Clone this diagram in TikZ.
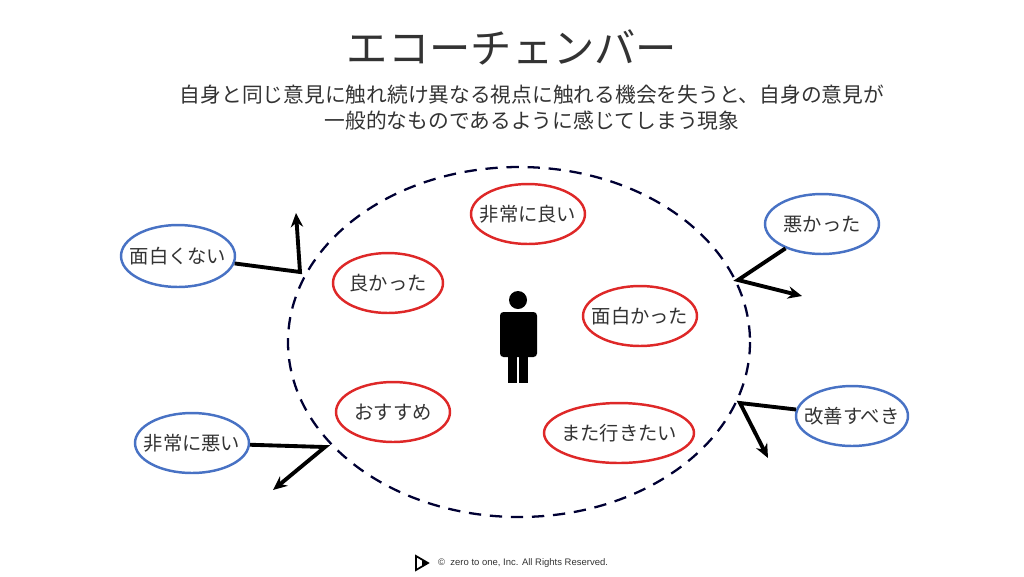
\documentclass[tikz,border=0pt]{standalone}
\usepackage{fontspec}
\setmainfont{Noto Sans CJK JP}
\newfontfamily\foot{Liberation Sans}
\usetikzlibrary{positioning, arrows.meta, shapes.geometric}
\definecolor{goodred}{RGB}{222,40,40}
\definecolor{badblue}{RGB}{72,114,196}

\begin{document}
\begin{tikzpicture}[
  x=0.02cm, y=-0.02cm,
  every node/.style={font=\fontsize{11}{13}\selectfont, text=black!80},
  good/.style={ellipse, draw=goodred, line width=1.4pt, inner sep=0pt, minimum height=1.2cm},
  bad/.style={ellipse, draw=badblue, line width=1.4pt, inner sep=0pt, minimum height=1.2cm},
  bounce/.style={line width=2.2pt, -{Stealth[length=8pt, width=7pt]}}
]
\useasboundingbox (0,0) rectangle (1024,576);

% Title
\node[font=\fontsize{23.5}{28}\selectfont] (title) at (512,47) {エコーチェンバー};
\node[align=center, font=\fontsize{11.8}{14.8}\selectfont] (sub) at (532,108)
  {自身と同じ意見に触れ続け異なる視点に触れる機会を失うと、自身の意見が\\一般的なものであるように感じてしまう現象};

% Chamber
\draw[line width=1.3pt, draw=black!80!blue, dash pattern=on 7pt off 5pt]
  (519,342) ellipse [x radius=231, y radius=175];

% Person
\fill (518,300) circle (9);
\fill[rounded corners=2pt] (500,312) rectangle (537,357);
\fill (508,350) rectangle (517,383);
\fill (519,350) rectangle (528,383);

% Voices inside
\node[good, minimum width=2.28cm, label=center:{非常に良い}] (g1) at (528,214) {};
\node[good, minimum width=2.2cm, label=center:{良かった}] (g2) at (388,283) {};
\node[good, minimum width=2.28cm, label=center:{面白かった}] (g3) at (640,316) {};
\node[good, minimum width=2.28cm, label=center:{おすすめ}] (g4) at (393,412) {};
\node[good, minimum width=3cm, label=center:{また行きたい}] (g5) at (619,433) {};

% Voices outside
\node[bad, minimum width=2.28cm, minimum height=1.24cm, label=center:{面白くない}] (b1) at (178,256) {};
\node[bad, minimum width=2.28cm, label=center:{非常に悪い}] (b2) at (192,443) {};
\node[bad, minimum width=2.28cm, label=center:{悪かった}] (b3) at (822,224) {};
\node[bad, minimum width=2.24cm, label=center:{改善すべき}] (b4) at (852,416) {};

% Bounce points
\coordinate (h1) at (300,272); \coordinate (e1) at (296,213);
\coordinate (h2) at (325,447); \coordinate (e2) at (273,490);
\coordinate (h3) at (738,280); \coordinate (e3) at (802,296);
\coordinate (h4) at (740,403); \coordinate (e4) at (768,458);

\draw[bounce] (b1) -- (h1) -- (e1);
\draw[bounce] (b2) -- (h2) -- (e2);
\draw[bounce] (b3) -- (h3) -- (e3);
\draw[bounce] (b4) -- (h4) -- (e4);

% Footer
\draw[line width=1pt, fill=white] (416,556) -- (428,563) -- (416,570) -- cycle;
\fill (422,560) -- (428,563) -- (422,566) -- cycle;
\node[anchor=west, font=\foot\fontsize{5.4}{6}\selectfont, text=black!80] (copy) at (432,563)
  {©\ \ zero to one, Inc. All Rights Reserved.};
\end{tikzpicture}
\end{document}
